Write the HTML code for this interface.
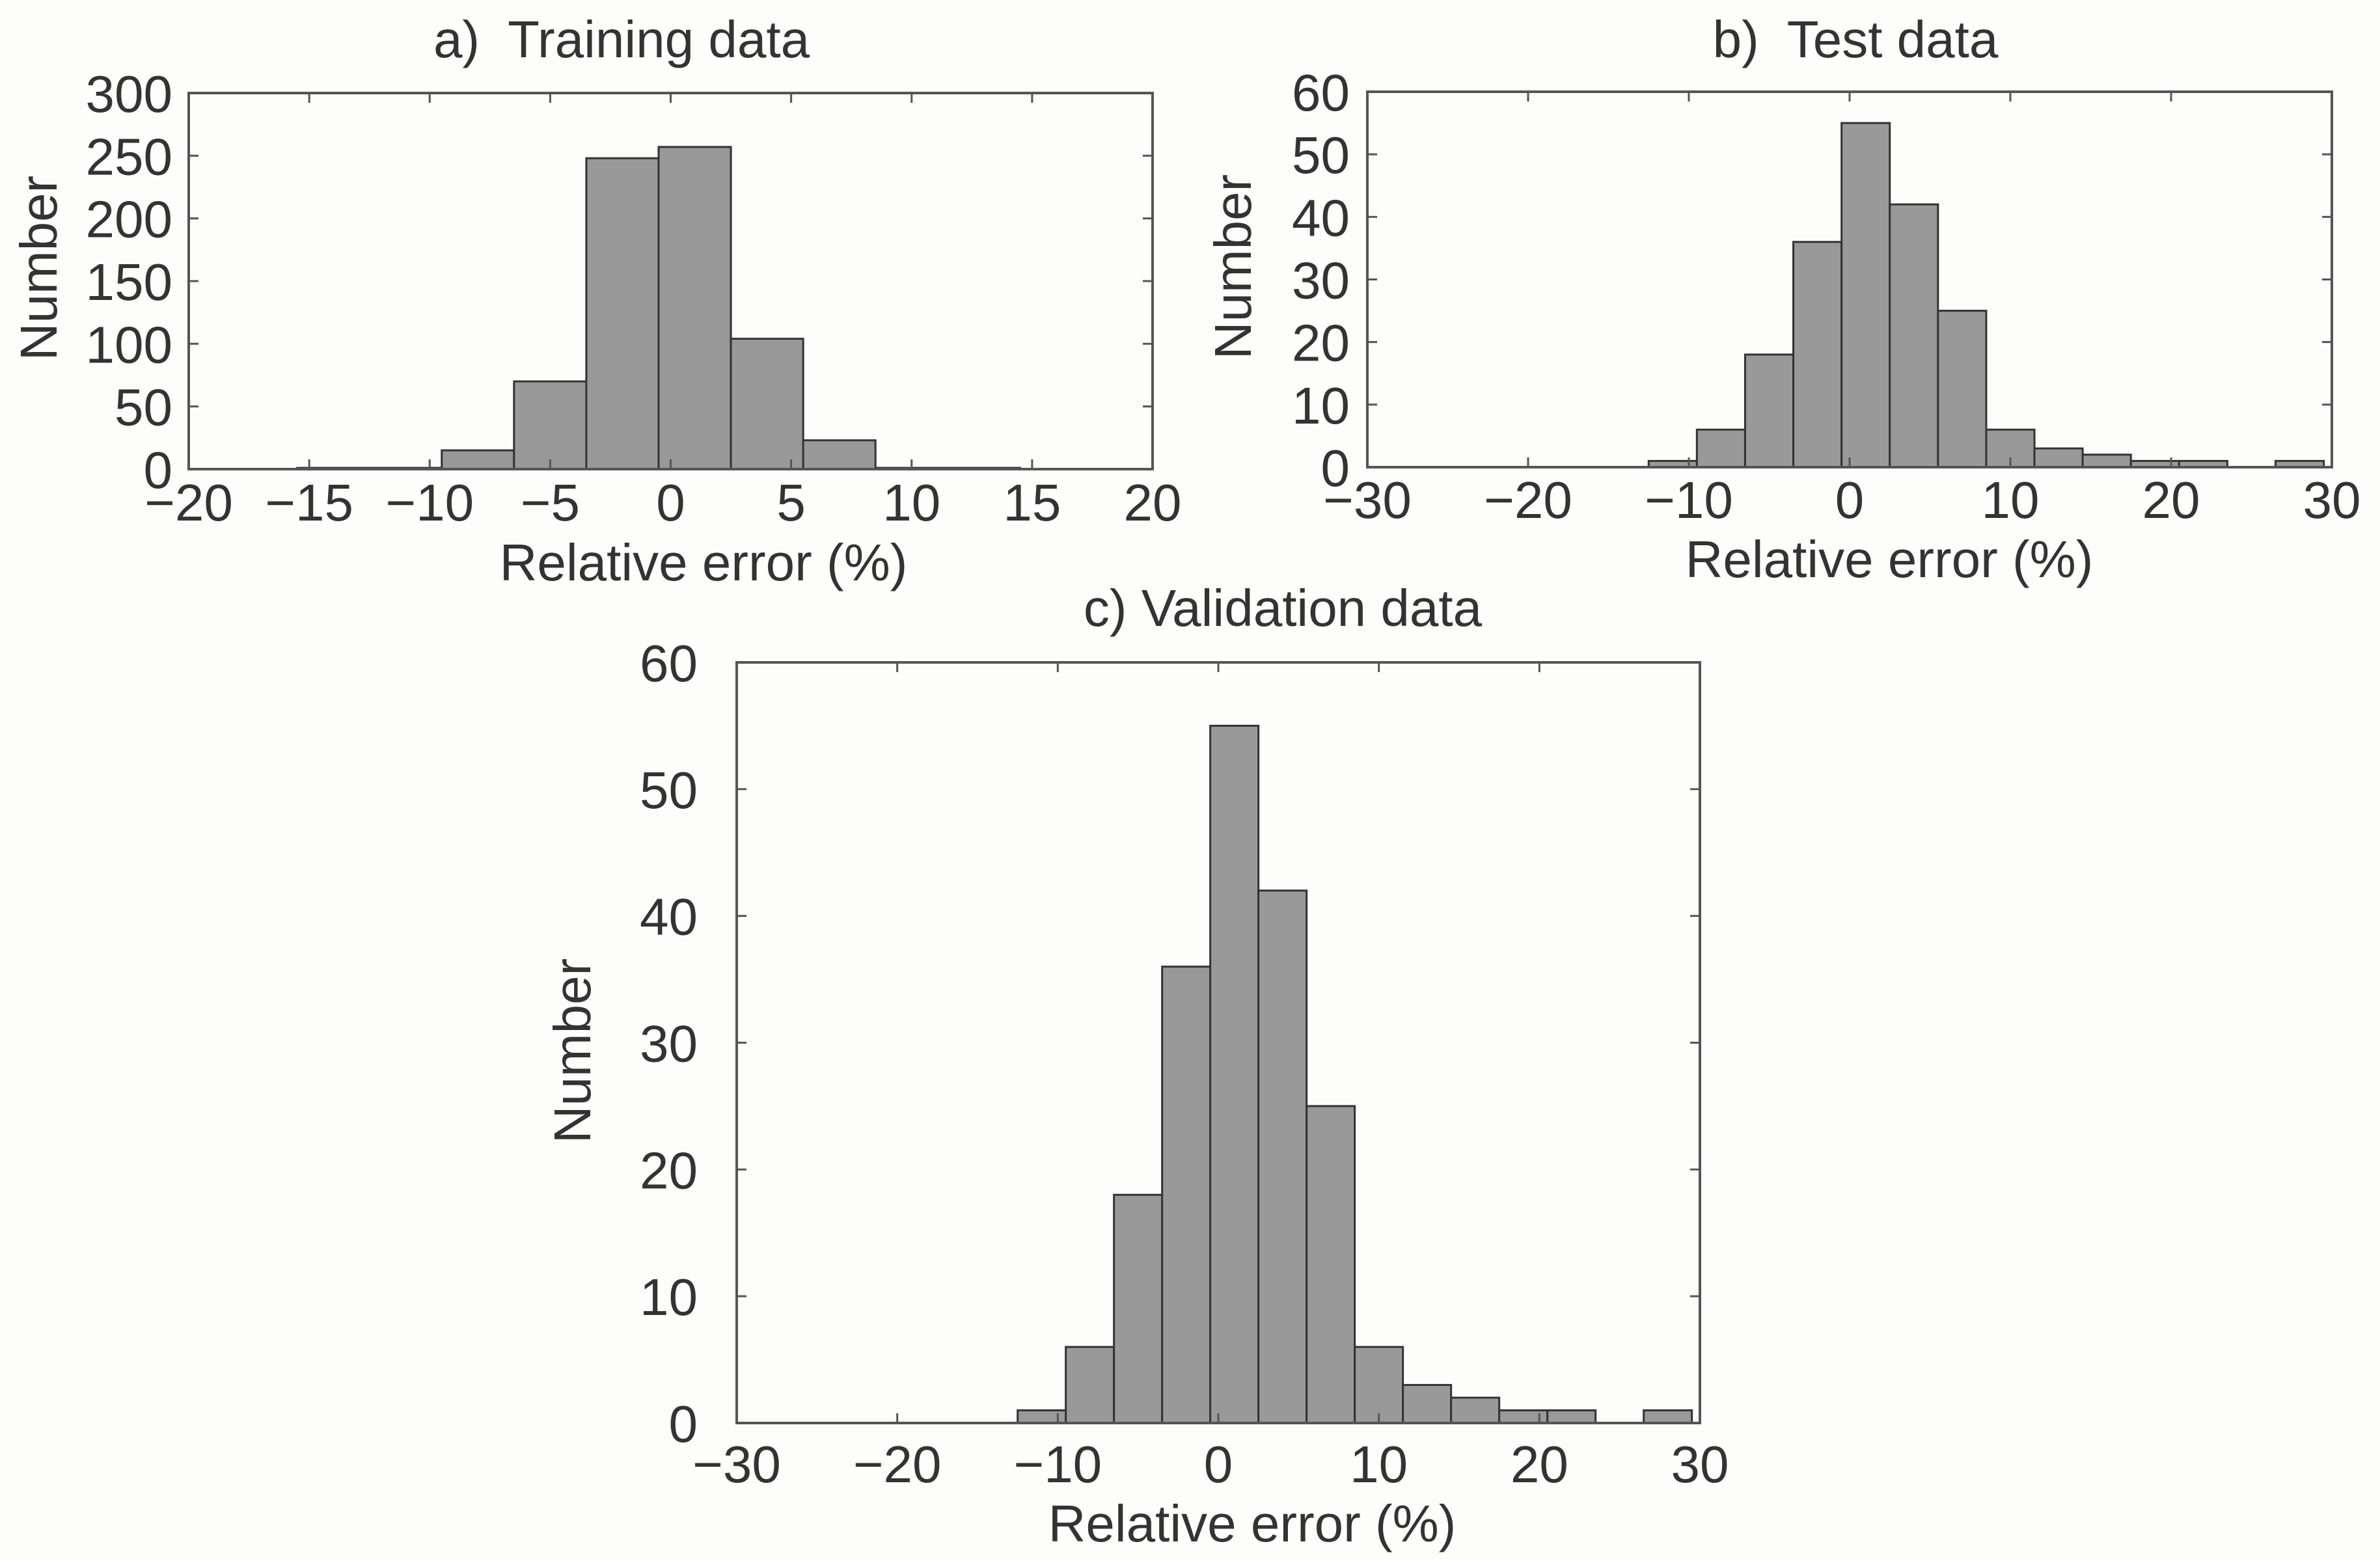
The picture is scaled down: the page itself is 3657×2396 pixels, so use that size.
<!DOCTYPE html>
<html><head><meta charset="utf-8"><style>
html,body{margin:0;padding:0;background:#fdfdfc;}
svg{display:block;font-family:"Liberation Sans",sans-serif;}
text{fill:#333;font-size:80px;white-space:pre;}
</style></head><body>
<svg id="fig" width="3657" height="2396" viewBox="0 0 3657 2396" xmlns="http://www.w3.org/2000/svg">
<rect width="3657" height="2396" fill="#fdfdfc"/>
</svg>
<script>
// Panel a: training data
const trainEdgeStart = -15.5;
const trainBinWidth = 3;
const trainCounts = [1, 1, 15, 70, 248, 257, 104, 23, 1, 1];
const trainXTicks = [-20, -15, -10, -5, 0, 5, 10, 15, 20];
const trainYTicks = [0, 50, 100, 150, 200, 250, 300];
// Panel b: test data
const testEdgeStart = -12.5;
const testBinWidth = 3;
const testCounts = [1, 6, 18, 36, 55, 42, 25, 6, 3, 2, 1, 1, 0, 1];
const testXTicks = [-30, -20, -10, 0, 10, 20, 30];
const testYTicks = [0, 10, 20, 30, 40, 50, 60];
// Panel c: validation data
const valEdgeStart = -12.5;
const valBinWidth = 3;
const valCounts = [1, 6, 18, 36, 55, 42, 25, 6, 3, 2, 1, 1, 0, 1];
const valXTicks = [-30, -20, -10, 0, 10, 20, 30];
const valYTicks = [0, 10, 20, 30, 40, 50, 60];

const NS = "http://www.w3.org/2000/svg";
const svg = document.getElementById('fig');
function mk(tag, attrs, parent) {
  const e = document.createElementNS(NS, tag);
  for (const k in attrs) e.setAttribute(k, attrs[k]);
  parent.appendChild(e);
  return e;
}
function fmt(v) { return v < 0 ? '\u2212' + Math.abs(v) : String(v); }

function panel(cfg) {
  const g = mk('g', {}, svg);
  
  
  const {L, R, T, B, xmin, xmax, ymin, ymax} = cfg;
  const sx = v => L + (v - xmin) / (xmax - xmin) * (R - L);
  const sy = v => B - (v - ymin) / (ymax - ymin) * (B - T);
  cfg.counts.forEach((c, i) => {
    if (c <= 0) return;
    const x0 = sx(cfg.edgeStart + i * cfg.binWidth), x1 = sx(cfg.edgeStart + (i + 1) * cfg.binWidth);
    const r = mk('rect', {x: x0, y: sy(c), width: x1 - x0, height: sy(0) - sy(c), fill: '#999', stroke: '#333', 'stroke-width': 3}, g);
    
    
  });
  const box = mk('rect', {x: L, y: T, width: R - L, height: B - T, fill: 'none', stroke: '#555', 'stroke-width': 4}, g);
  
  
  const tl = 15;
  cfg.xticks.forEach(v => {
    const x = sx(v);
    mk('line', {x1: x, y1: B, x2: x, y2: B - tl, stroke: '#555', 'stroke-width': 3}, g);
    mk('line', {x1: x, y1: T, x2: x, y2: T + tl, stroke: '#555', 'stroke-width': 3}, g);
    const t = mk('text', {x: x, y: cfg.xTickBase, 'text-anchor': 'middle'}, g);
    t.textContent = fmt(v);
    
    
  });
  cfg.yticks.forEach(v => {
    const y = sy(v);
    mk('line', {x1: L, y1: y, x2: L + tl, y2: y, stroke: '#555', 'stroke-width': 3}, g);
    mk('line', {x1: R, y1: y, x2: R - tl, y2: y, stroke: '#555', 'stroke-width': 3}, g);
    const t = mk('text', {x: cfg.yTickRight, y: y + 29, 'text-anchor': 'end'}, g);
    t.textContent = fmt(v);
    
    
  });
  const ti = mk('text', {x: cfg.titleX, y: cfg.titleY, 'text-anchor': 'middle'}, g);
  ti.textContent = cfg.title;
  
  
  const xl = mk('text', {x: cfg.xlabX, y: cfg.xlabY, 'text-anchor': 'middle'}, g);
  xl.textContent = 'Relative error (%)';
  
  
  const yl = mk('text', {x: 0, y: 0, 'text-anchor': 'middle', transform: `translate(${cfg.ylabX + 29},${cfg.ylabY}) rotate(-90)`}, g);
  yl.textContent = 'Number';
  
  
}

panel({name: 'training-panel', L: 290, R: 1771, T: 143, B: 721, xmin: -20, xmax: 20, ymin: 0, ymax: 300,
  counts: trainCounts, edgeStart: trainEdgeStart, binWidth: trainBinWidth, xticks: trainXTicks, yticks: trainYTicks,
  xTickBase: 800, yTickRight: 265, title: 'a)  Training data', titleX: 955, titleY: 88,
  xlabX: 1081, xlabY: 892, ylabX: 58, ylabY: 412});
panel({name: 'test-panel', L: 2101, R: 3583, T: 141, B: 718, xmin: -30, xmax: 30, ymin: 0, ymax: 60,
  counts: testCounts, edgeStart: testEdgeStart, binWidth: testBinWidth, xticks: testXTicks, yticks: testYTicks,
  xTickBase: 796, yTickRight: 2074, title: 'b)  Test data', titleX: 2851, titleY: 88,
  xlabX: 2903, xlabY: 887, ylabX: 1893, ylabY: 410});
panel({name: 'validation-panel', L: 1132, R: 2612, T: 1018, B: 2187, xmin: -30, xmax: 30, ymin: 0, ymax: 60,
  counts: valCounts, edgeStart: valEdgeStart, binWidth: valBinWidth, xticks: valXTicks, yticks: valYTicks,
  xTickBase: 2278, yTickRight: 1072, title: 'c) Validation data', titleX: 1971, titleY: 962,
  xlabX: 1924, xlabY: 2369, ylabX: 878, ylabY: 1615});
</script>
</body></html>
